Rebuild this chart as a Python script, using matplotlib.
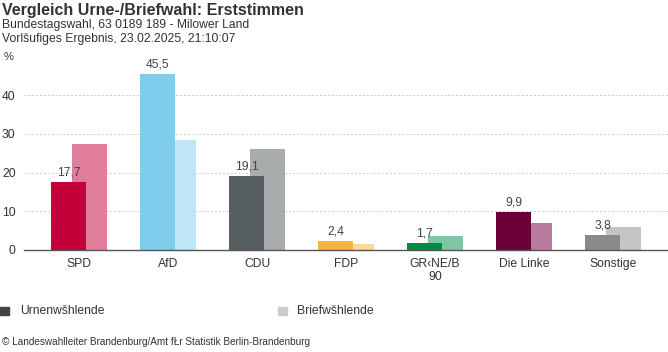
import matplotlib
matplotlib.use("Agg")
import matplotlib.pyplot as plt
from matplotlib.patches import Rectangle
import numpy as np

plt.rcParams['font.family'] = ['Liberation Sans', 'DejaVu Sans']

parteien = ["SPD", "AfD", "CDU", "FDP", "GR‹NE/B\n90", "Die Linke", "Sonstige"]
urne = [17.7, 45.5, 19.1, 2.4, 1.7, 9.9, 3.8]
brief = [27.4, 28.4, 26.1, 1.6, 3.7, 7.1, 6.0]
urne_labels = ["17,7", "45,5", "19,1", "2,4", "1,7", "9,9", "3,8"]

farben_urne = ["#C3003A", "#7FCDEC", "#575E61", "#F4B73C", "#008A46", "#6A0037", "#8A8A8A"]
farben_brief = ["#E07D9B", "#BFE6F6", "#A9ACAC", "#FADB9C", "#80C5A3", "#B77C9C", "#C5C5C5"]

W, H = 668, 352
fig = plt.figure(figsize=(W / 100, H / 100), dpi=100)
ax = fig.add_axes([24 / W, 1 - 250 / H, 644 / W, 190 / H])

x = np.arange(len(parteien))
bw = 0.393
off = 0.118

ax.bar(x + off, brief, width=bw, color=farben_brief, zorder=2)
ax.bar(x - off, urne, width=bw, color=farben_urne, zorder=3)
for xi, v, t in zip(x, urne, urne_labels):
    ax.text(xi - off, v + 0.9, t, ha="center", va="bottom", fontsize=8.7, color="#444444", zorder=4)

ax.set_xlim(-0.618, 6.618)
ax.set_ylim(0, 49.1)
ax.set_yticks([0, 10, 20, 30, 40])
ax.set_xticks(x)
ax.set_xticklabels(parteien, fontsize=8.7, color="#333333", linespacing=1.1)
ax.tick_params(axis="y", length=0, pad=6, labelsize=8.7, labelcolor="#333333")
ax.tick_params(axis="x", length=0, pad=6)

for g in [10, 20, 30, 40]:
    ax.axhline(g, color="#cccccc", lw=0.7, ls=(0, (2, 2)), zorder=1)
for s in ["top", "right", "left"]:
    ax.spines[s].set_visible(False)
ax.spines["bottom"].set_color("#555555")
ax.spines["bottom"].set_linewidth(1.0)
ax.spines["bottom"].set_zorder(5)

fig.text(2 / W, 1 - 10 / H, "Vergleich Urne-/Briefwahl: Erststimmen", fontsize=11.5, fontweight="bold",
         color="#333333", va="center", ha="left")
fig.text(2 / W, 1 - 25 / H, "Bundestagswahl, 63 0189 189 - Milower Land", fontsize=8.7,
         color="#333333", va="center", ha="left")
fig.text(2 / W, 1 - 39 / H, "Vorlšufiges Ergebnis, 23.02.2025, 21:10:07", fontsize=8.7,
         color="#333333", va="center", ha="left")
fig.text(4 / W, 1 - 57 / H, "%", fontsize=8, color="#333333", va="center", ha="left")

fig.add_artist(Rectangle((0, 1 - 315 / H), 9 / W, 8 / H, transform=fig.transFigure, color="#444444"))
fig.text(20 / W, 1 - 311 / H, "Urnenwšhlende", fontsize=8.7, color="#333333", va="center", ha="left")
fig.add_artist(Rectangle((278 / W, 1 - 315 / H), 9 / W, 8 / H, transform=fig.transFigure, color="#cccccc"))
fig.text(297 / W, 1 - 311 / H, "Briefwšhlende", fontsize=8.7, color="#333333", va="center", ha="left")

fig.text(2 / W, 1 - 342 / H, "© Landeswahlleiter Brandenburg/Amt fŁr Statistik Berlin-Brandenburg",
         fontsize=7.2, color="#333333", va="center", ha="left")

fig.savefig("out.png", dpi=100)
